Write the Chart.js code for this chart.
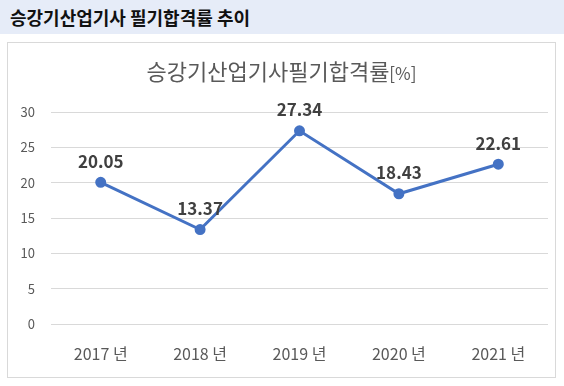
<!DOCTYPE html>
<html>
<head>
<meta charset="utf-8">
<script src="https://cdn.jsdelivr.net/npm/chart.js@4"></script>
<style>
  body { margin: 0; background: #fff; font-family: "Noto Sans CJK KR", "Noto Sans", sans-serif; }
  #head { position: absolute; left: 0; top: 0; width: 564px; height: 34px; background: #e6ecf8;
          font-weight: bold; font-size: 18px; color: #111; line-height: 34px; padding-left: 10px; box-sizing: border-box; }
  #box { position: absolute; left: 7px; top: 42px; width: 547px; height: 334px; border: 1px solid #d9d9d9; }
</style>
</head>
<body>
<div id="head">승강기산업기사 필기합격률 추이</div>
<div id="box"><canvas id="passChart" width="547" height="334"></canvas></div>
<script>
const years = ['2017 년', '2018 년', '2019 년', '2020 년', '2021 년'];
const passRates = [20.05, 13.37, 27.34, 18.43, 22.61];
const yTicks = [0, 5, 10, 15, 20, 25, 30];

const fontFamily = '"Noto Sans CJK KR", "Noto Sans", sans-serif';

// title with a smaller [%] part, drawn centered above the plot
const titlePlugin = {
    id: 'mixedTitle',
    afterDraw(chart) {
        const ctx = chart.ctx;
        const main = '승강기산업기사필기합격률';
        const unit = '[%]';
        ctx.save();
        ctx.fillStyle = '#595959';
        ctx.textBaseline = 'middle';
        ctx.font = '22px ' + fontFamily;
        const w1 = ctx.measureText(main).width;
        ctx.font = '17px ' + fontFamily;
        const w2 = ctx.measureText(unit).width;
        let x = chart.width / 2 - (w1 + w2) / 2;
        ctx.font = '22px ' + fontFamily;
        ctx.textAlign = 'left';
        ctx.fillText(main, x, 29);
        ctx.font = '17px ' + fontFamily;
        ctx.fillText(unit, x + w1, 31);
        ctx.restore();
    }
};

// value labels above each point
const valueLabels = {
    id: 'valueLabels',
    afterDatasetsDraw(chart) {
        const ctx = chart.ctx;
        const meta = chart.getDatasetMeta(0);
        ctx.save();
        ctx.font = 'bold 17px ' + fontFamily;
        ctx.fillStyle = '#404040';
        ctx.textAlign = 'center';
        ctx.textBaseline = 'middle';
        meta.data.forEach(function (pt, i) {
            ctx.fillText(passRates[i].toFixed(2), pt.x, pt.y - 21);
        });
        ctx.restore();
    }
};

new Chart(document.getElementById('passChart'), {
    type: 'line',
    data: {
        labels: years,
        datasets: [{
            data: passRates,
            borderColor: '#4472c4',
            backgroundColor: '#4472c4',
            borderWidth: 3,
            pointRadius: 4,
            pointHoverRadius: 4,
            fill: false,
            tension: 0
        }]
    },
    options: {
        responsive: false,
        animation: false,
        layout: { padding: { top: 69, right: 7, left: 0, bottom: 0 } },
        plugins: {
            legend: { display: false },
            title: { display: false },
            tooltip: { enabled: false }
        },
        scales: {
            x: {
                offset: true,
                grid: { display: false, drawTicks: false },
                border: { display: false },
                ticks: { color: '#595959', font: { size: 16, family: fontFamily }, padding: 20 },
                afterFit(scale) { scale.height = 53; }
            },
            y: {
                min: 0,
                max: 30,
                afterBuildTicks(scale) { scale.ticks = yTicks.map(v => ({ value: v })); },
                grid: { color: '#d9d9d9', lineWidth: 1, drawTicks: false },
                border: { display: false },
                ticks: { color: '#595959', font: { size: 13, family: fontFamily }, padding: 16 },
                afterFit(scale) { scale.width = 43; }
            }
        }
    },
    plugins: [titlePlugin, valueLabels]
});
</script>
</body>
</html>
